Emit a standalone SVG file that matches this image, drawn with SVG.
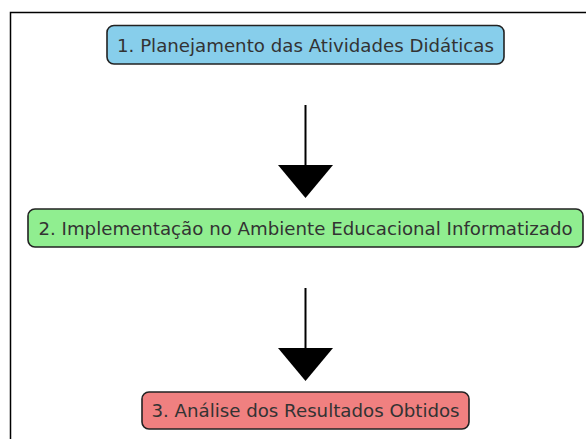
<svg xmlns="http://www.w3.org/2000/svg" width="586" height="439" viewBox="0 0 586 439">
<style>
.box{stroke:#222;stroke-width:1.6}
.lbl{font-family:"DejaVu Sans",sans-serif;font-size:18.2px;fill:#333;text-anchor:middle;dominant-baseline:central}
.conn{stroke:#000;stroke-width:2;fill:none}
.head{fill:#000}
</style>
<rect x="0" y="0" width="586" height="439" fill="#fff"/>
<rect x="10.5" y="12.5" width="600" height="450" fill="none" stroke="#000" stroke-width="1.5"/>
<g id="connectors">
<line class="conn" x1="305.5" y1="105" x2="305.5" y2="166"/>
<polygon class="head" points="278,165 333,165 305.5,198"/>
<line class="conn" x1="305.5" y1="288" x2="305.5" y2="349"/>
<polygon class="head" points="278,348 333,348 305.5,381"/>
</g>
<g id="node1">
<rect class="box" x="107" y="25.5" width="397" height="38.5" rx="7" fill="#87CEEB"/>
<text class="lbl" x="305.5" y="45">1. Planejamento das Atividades Didáticas</text>
</g>
<g id="node2">
<rect class="box" x="28" y="209" width="555" height="38" rx="7" fill="#90EE90"/>
<text class="lbl" x="305.5" y="228">2. Implementação no Ambiente Educacional Informatizado</text>
</g>
<g id="node3">
<rect class="box" x="142" y="392" width="327" height="37" rx="7" fill="#F08080"/>
<text class="lbl" x="305.5" y="410.5">3. Análise dos Resultados Obtidos</text>
</g>
</svg>
